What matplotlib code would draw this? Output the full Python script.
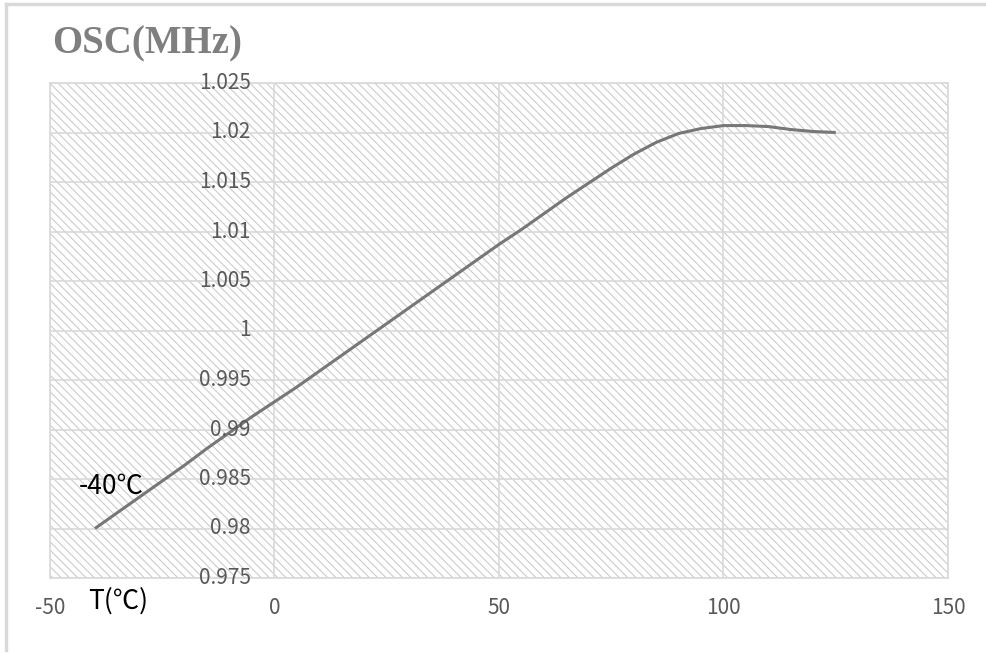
import numpy as np
import matplotlib.pyplot as plt
from matplotlib.patches import Rectangle
from matplotlib.lines import Line2D

# temperature (C) vs oscillator frequency (MHz)
temps = [-40, -35, -30, -25, -20, -15, -10, -5, 0, 5, 10, 15, 20, 25, 30, 35, 40, 45, 50,
         55, 60, 65, 70, 75, 80, 85, 90, 95, 100, 105, 110, 115, 120, 125]
freqs = [0.9800, 0.9816, 0.9832, 0.9848, 0.9864, 0.9881, 0.9897, 0.9913, 0.9928, 0.9943,
         0.9959, 0.9975, 0.9991, 1.0007, 1.0023, 1.0039, 1.0055, 1.0071, 1.0087, 1.0102,
         1.0118, 1.0134, 1.0149, 1.0164, 1.0178, 1.0190, 1.0199, 1.0204, 1.0207, 1.0207,
         1.0206, 1.0203, 1.0201, 1.0200]

x_ticks = [-50, 0, 50, 100, 150]
y_ticks = [0.975, 0.98, 0.985, 0.99, 0.995, 1.0, 1.005, 1.01, 1.015, 1.02, 1.025]
y_labels = ['0.975', '0.98', '0.985', '0.99', '0.995', '1', '1.005', '1.01', '1.015', '1.02', '1.025']

plt.rcParams['hatch.linewidth'] = 0.8
tick_font = ['Noto Sans CJK KR', 'DejaVu Sans']
grid_c = '#d9d9d9'
tick_c = '#595959'

fig = plt.figure(figsize=(9.87, 6.54), dpi=100)
W, H = 987, 654
ax = fig.add_axes([50 / W, 1 - 578 / H, 898 / W, 495 / H])

ax.set_xlim(-50, 150)
ax.set_ylim(0.975, 1.025)

# hatched plot area background
ax.add_patch(Rectangle((0, 0), 1, 1, transform=ax.transAxes, fill=False,
                       hatch='\\' * 4, edgecolor='#cccccc', linewidth=0, zorder=0))

for xv in x_ticks:
    ax.axvline(xv, color=grid_c, lw=1.2, zorder=1)
for yv in y_ticks:
    ax.axhline(yv, color=grid_c, lw=1.2, zorder=1)

ax.plot(temps, freqs, color='#777777', lw=2.2, solid_capstyle='butt',
        solid_joinstyle='round', zorder=3)

for s in ax.spines.values():
    s.set_color(grid_c)
    s.set_linewidth(1.2)

ax.set_xticks(x_ticks)
ax.set_xticklabels([str(v) for v in x_ticks], family=tick_font, fontsize=15, color=tick_c)
ax.tick_params(axis='x', length=0, pad=14)
ax.set_yticks([])

# y labels sit next to the x=0 line (Excel style crossing axis)
for yv, lab in zip(y_ticks, y_labels):
    ax.annotate(lab, xy=(0, yv), xytext=(-17, 0), textcoords='offset points',
                ha='right', va='center', family=tick_font, fontsize=15, color=tick_c,
                annotation_clip=False, zorder=4)

ax.text(-43.5, 0.9843, '-40℃', family=tick_font, fontsize=19, color='black',
        ha='left', va='center', zorder=4)

fig.text(88 / W, 1 - 601 / H, 'T(℃)', family=tick_font, fontsize=19, color='black',
         ha='left', va='center')
fig.text(52 / W, 1 - 44 / H, 'OSC(MHz)', family=['Liberation Serif', 'DejaVu Serif'],
         fontsize=28, fontweight='bold', color='#7f7f7f', ha='left', va='center')

# outer frame (top and left edges of the chart box)
fig.add_artist(Line2D([6 / W, 1], [1 - 4 / H, 1 - 4 / H], color='#d9d9d9', lw=2.5))
fig.add_artist(Line2D([6 / W, 6 / W], [1 - 4 / H, 1 - 650 / H], color='#d9d9d9', lw=2.5))

fig.savefig('out.png', dpi=100)
